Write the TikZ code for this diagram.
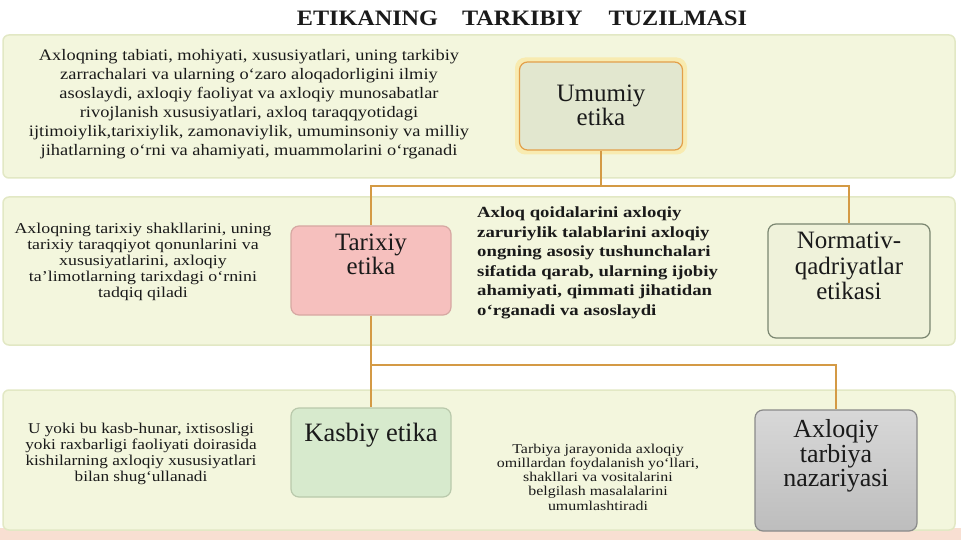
\documentclass[tikz,border=0pt]{standalone}
\usepackage{fontspec}
\setmainfont{Liberation Serif}
\begin{document}
\begin{tikzpicture}[x=1pt,y=-1pt,
  band/.style={draw=bandline,line width=1.5pt,fill=bandfill,rounded corners=6pt},
  box/.style={rounded corners=8pt,line width=1.2pt},
  conn/.style={draw=connc,line width=2pt},
  boxtext/.style={align=center,inner sep=0pt,font=\fontsize{25}{24}\selectfont,text=txt},
  bodytext/.style={align=center,inner sep=0pt,text=txt},
  titletext/.style={inner sep=0pt,font=\bfseries\fontsize{22}{26}\selectfont\addfontfeature{FakeStretch=1.1},text=txt}
]
\definecolor{bandfill}{HTML}{F3F6DD}
\definecolor{bandline}{HTML}{E2E8C4}
\definecolor{connc}{HTML}{D49A45}
\definecolor{txt}{HTML}{1A1A1A}
\definecolor{umfill}{HTML}{E2E7CF}
\definecolor{umline}{HTML}{E3A04A}
\definecolor{umglow}{HTML}{F8EBB0}
\definecolor{tafill}{HTML}{F6C0BE}
\definecolor{taline}{HTML}{D6A8A2}
\definecolor{nofill}{HTML}{EFF2DA}
\definecolor{noline}{HTML}{7A8670}
\definecolor{kafill}{HTML}{D7EACD}
\definecolor{kaline}{HTML}{B9C9AB}
\definecolor{axtop}{HTML}{D8D8D8}
\definecolor{axbot}{HTML}{BDBDBD}
\definecolor{axline}{HTML}{8A8A8A}
\definecolor{peach}{HTML}{F8DFD2}

\useasboundingbox (0,0) rectangle (961,540);
\fill[white] (0,0) rectangle (961,540);

% title
\node[titletext] (title) at (522,18)
  {ETIKANING\hspace{24pt}TARKIBIY\hspace{26pt}TUZILMASI};

% bands
\fill[peach] (0,528) rectangle (961,540);
\draw[band] (3,35) rectangle (955,178);
\draw[band] (3,197) rectangle (955,345);
\draw[band] (3,390) rectangle (955,530);

% junction coordinates
\coordinate (j1) at (601,186);
\coordinate (j2) at (371,365);

% boxes
\node[box,draw=umglow,line width=5pt,minimum width=167pt,minimum height=92pt] (umglowbox) at (601,106) {};
\node[box,draw=umline,fill=umfill,minimum width=163pt,minimum height=88pt] (umumiy) at (601,106) {};
\node[box,draw=taline,fill=tafill,minimum width=160pt,minimum height=89pt] (tarixiy) at (371,270.5) {};
\node[box,draw=noline,fill=nofill,minimum width=162pt,minimum height=114pt] (normativ) at (849,281) {};
\node[box,draw=kaline,fill=kafill,minimum width=160pt,minimum height=89pt] (kasbiy) at (371,452.5) {};
\node[box,draw=axline,top color=axtop,bottom color=axbot,minimum width=162pt,minimum height=121pt] (axloqiy) at (836,470.5) {};

% connectors
\draw[conn] (umumiy.south) -- (j1);
\draw[conn] (j1) -| (tarixiy.north);
\draw[conn] (j1) -| (normativ.north);
\draw[conn] (tarixiy.south) -- (j2);
\draw[conn] (j2) -- (kasbiy.north);
\draw[conn] (j2) -| (axloqiy.north);

% box texts
\node[boxtext] (umumiyT) at (601,105) {Umumiy\\etika};
\node[boxtext] (tarixiyT) at (371,254) {Tarixiy\\etika};
\node[boxtext,font=\fontsize{25}{25.5}\selectfont] (normativT) at (849,266) {Normativ-\\qadriyatlar\\etikasi};
\node[boxtext,font=\fontsize{26.5}{24}\selectfont] (kasbiyT) at (371,435) {Kasbiy etika};
\node[boxtext,font=\fontsize{26}{24.5}\selectfont] (axloqiyT) at (836,456) {Axloqiy\\tarbiya\\nazariyasi};

% body texts
\node[bodytext,font=\fontsize{16}{19}\selectfont\addfontfeature{FakeStretch=1.15}] (t1) at (249,104)
 {Axloqning tabiati, mohiyati, xususiyatlari, uning tarkibiy\\
  zarrachalari va ularning o‘zaro aloqadorligini ilmiy\\
  asoslaydi, axloqiy faoliyat va axloqiy munosabatlar\\
  rivojlanish xususiyatlari, axloq taraqqyotidagi\\
  ijtimoiylik,tarixiylik, zamonaviylik, umuminsoniy va milliy\\
  jihatlarning o‘rni va ahamiyati, muammolarini o‘rganadi};

\node[bodytext,font=\fontsize{15}{16}\selectfont\addfontfeature{FakeStretch=1.19}] (t2) at (143,262)
 {Axloqning tarixiy shakllarini, uning\\
  tarixiy taraqqiyot qonunlarini va\\
  xususiyatlarini, axloqiy\\
  ta’limotlarning tarixdagi o‘rnini\\
  tadqiq qiladi};

\node[bodytext,align=left,anchor=west,font=\bfseries\fontsize{15.5}{19.5}\selectfont\addfontfeature{FakeStretch=1.21}] (t3) at (477,263)
 {Axloq qoidalarini axloqiy\\
  zaruriylik talablarini axloqiy\\
  ongning asosiy tushunchalari\\
  sifatida qarab, ularning ijobiy\\
  ahamiyati, qimmati jihatidan\\
  o‘rganadi va asoslaydi};

\node[bodytext,font=\fontsize{15}{16}\selectfont\addfontfeature{FakeStretch=1.15}] (t4) at (141,454)
 {U yoki bu kasb-hunar, ixtisosligi\\
  yoki raxbarligi faoliyati doirasida\\
  kishilarning axloqiy xususiyatlari\\
  bilan shug‘ullanadi};

\node[bodytext,font=\fontsize{13.5}{14.2}\selectfont\addfontfeature{FakeStretch=1.18}] (t5) at (598,477)
 {Tarbiya jarayonida axloqiy\\
  omillardan foydalanish yo‘llari,\\
  shakllari va vositalarini\\
  belgilash masalalarini\\
  umumlashtiradi};
\end{tikzpicture}
\end{document}
